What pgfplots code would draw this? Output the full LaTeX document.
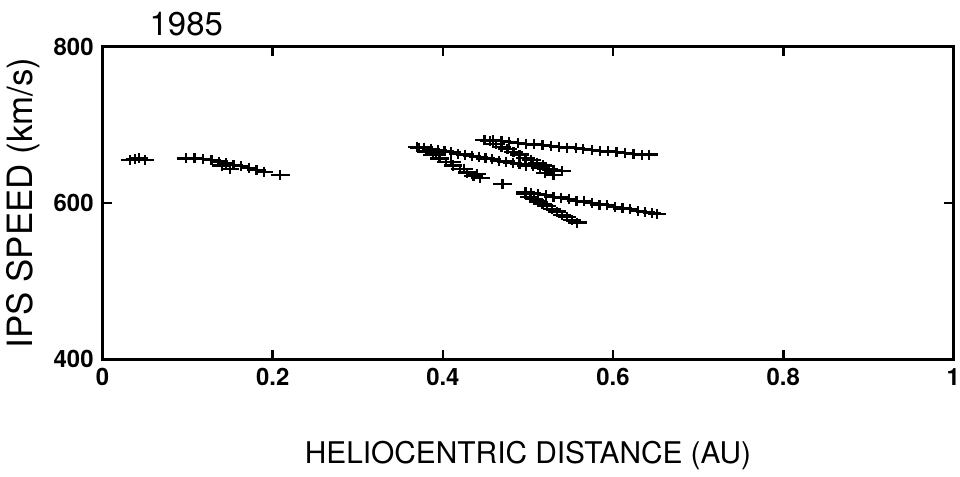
\documentclass[border=0pt]{standalone}
\usepackage{fontspec}
\setmainfont{TeX Gyre Heros}
\usepackage{pgfplots}
\pgfplotsset{compat=1.18}
\pgfplotsset{pt/.style={black, only marks, mark=+, mark size=4.2pt,
  mark options={xscale=1.1, yscale=0.6, line width=1.1pt}}}

\begin{document}
\begin{tikzpicture}
\begin{axis}[
  width=427.5pt, height=157pt, scale only axis,
  xmin=0, xmax=1, ymin=400, ymax=800,
  xtick={0,0.2,0.4,0.6,0.8,1}, ytick={400,600,800},
  xticklabels={0,0.2,0.4,0.6,0.8,1},
  tick align=inside, major tick length=4.5pt,
  tick style={line width=1.3pt, black},
  axis line style={line width=1.3pt},
  minor tick num=0,
  /pgf/number format/assume math mode=true,
  tick label style={font=\fontsize{12}{13}\selectfont\bfseries},
  xticklabel style={yshift=-1pt, inner xsep=0pt},
  yticklabel style={xshift=-1pt},
  xlabel={HELIOCENTRIC DISTANCE (AU)},
  ylabel={IPS SPEED (km/s)},
  xlabel style={font=\fontsize{15}{17}\selectfont, yshift=-21pt},
  ylabel style={font=\fontsize{17.5}{19}\selectfont, yshift=0pt},
  clip=false,
]
% near the Sun
\addplot[pt] coordinates {(0.032,655) (0.038,656) (0.043,657) (0.050,655)};
\addplot[pt] coordinates {(0.098,657) (0.108,657) (0.118,656) (0.128,655)
  (0.137,653) (0.145,651) (0.154,649) (0.163,647) (0.172,645) (0.181,642)
  (0.190,640) (0.209,636) (0.140,648) (0.150,644)};

% track A
\addplot[pt] coordinates {(0.370,672) (0.378,671) (0.386,669) (0.394,668)
  (0.402,666) (0.410,665) (0.418,663) (0.426,662) (0.434,660) (0.442,659)
  (0.450,657) (0.458,656) (0.466,654) (0.474,653) (0.482,651) (0.490,650)
  (0.498,648) (0.506,647) (0.514,645) (0.522,643) (0.530,642) (0.540,641)};
% track B
\addplot[pt] coordinates {(0.372,670) (0.380,666) (0.388,661) (0.396,657)
  (0.404,652) (0.412,648) (0.420,643) (0.428,639) (0.436,635) (0.444,632)
  (0.392,662) (0.410,652) (0.425,644) (0.440,637) (0.470,624)};
% track C
\addplot[pt] coordinates {(0.449,681) (0.459,680) (0.469,679) (0.478,678)
  (0.488,677) (0.498,676) (0.507,675) (0.517,674) (0.527,673) (0.536,672)
  (0.546,671) (0.556,670) (0.565,669) (0.575,668) (0.585,667) (0.594,666)
  (0.604,665) (0.614,664) (0.624,663) (0.634,662) (0.642,662)};
% track D
\addplot[pt] coordinates {(0.455,679) (0.462,676) (0.469,672) (0.476,669)
  (0.483,665) (0.490,662) (0.497,658) (0.504,655) (0.511,651) (0.518,648)
  (0.525,644) (0.530,641) (0.520,638) (0.530,636)};
% track E
\addplot[pt] coordinates {(0.497,614) (0.504,613) (0.512,612) (0.521,610)
  (0.530,608) (0.539,607) (0.548,605) (0.557,603) (0.566,602) (0.575,600)
  (0.584,598) (0.593,597) (0.602,595) (0.611,593) (0.620,592) (0.629,590)
  (0.638,588) (0.646,587) (0.652,586)};
% track F
\addplot[pt] coordinates {(0.497,611) (0.502,608) (0.507,605) (0.512,602)
  (0.517,599) (0.522,596) (0.528,592) (0.534,589) (0.540,585) (0.546,582)
  (0.552,578) (0.558,575)};

\node[anchor=south west, font=\fontsize{16.5}{18}\selectfont, inner sep=0pt]
  at (rel axis cs:0.055,1) [yshift=5pt] {1985};
% room above the title, as in the original
\path (rel axis cs:0,1) ++(0pt,23.5pt);
\end{axis}
\end{tikzpicture}
\end{document}
